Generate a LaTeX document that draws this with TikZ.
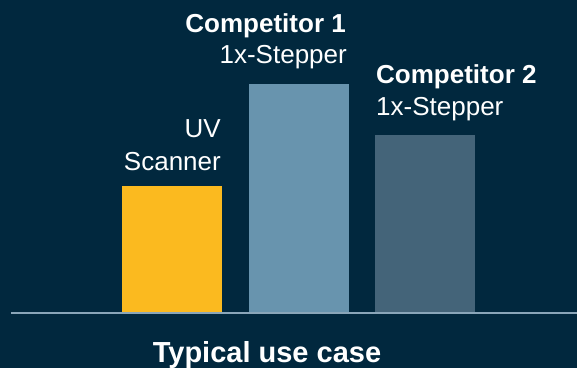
\documentclass[tikz,border=0pt]{standalone}
\usepackage{fontspec}
\setmainfont{Liberation Sans}
\definecolor{bg}{HTML}{01283E}
\definecolor{uvyellow}{HTML}{FBBA1F}
\definecolor{compone}{HTML}{6894AE}
\definecolor{comptwo}{HTML}{446479}
\definecolor{axisline}{HTML}{8AA6B9}
\tikzset{
  lbl/.style={text=white, inner sep=0pt, font=\fontsize{26}{32}\selectfont},
  lblbold/.style={lbl, font=\fontsize{26}{32}\selectfont\bfseries},
  bar/.style={draw=none},
}
\begin{document}
\begin{tikzpicture}[x=1pt, y=-1pt]
  % canvas
  \fill[bg] (0,0) rectangle (577,368);
  \useasboundingbox (0,0) rectangle (577,368);
  % bars
  \fill[uvyellow] (122,186) rectangle (222,313);
  \fill[compone] (249,84) rectangle (349,313);
  \fill[comptwo] (375,135) rectangle (475,313);
  % axis
  \coordinate (axL) at (11,313);
  \coordinate (axR) at (577,313);
  \draw[axisline, line width=1.5pt] (axL) -- (axR);
  % labels
  \node[lbl, anchor=base east] (uv) at (221,137) {UV};
  \node[lbl, anchor=base east] (scan) at (221,170) {Scanner};
  \node[lblbold, anchor=base east] (c1) at (346,32) {Competitor 1};
  \node[lbl, anchor=base east] (s1) at (347,63) {1x-Stepper};
  \node[lblbold, anchor=base west] (c2) at (376,83) {Competitor 2};
  \node[lbl, anchor=base west] (s2) at (376,115) {1x-Stepper};
  \node[text=white, inner sep=0pt, anchor=base, font=\fontsize{29}{34}\selectfont\bfseries] (cap) at (267,362) {Typical use case};
\end{tikzpicture}
\end{document}
